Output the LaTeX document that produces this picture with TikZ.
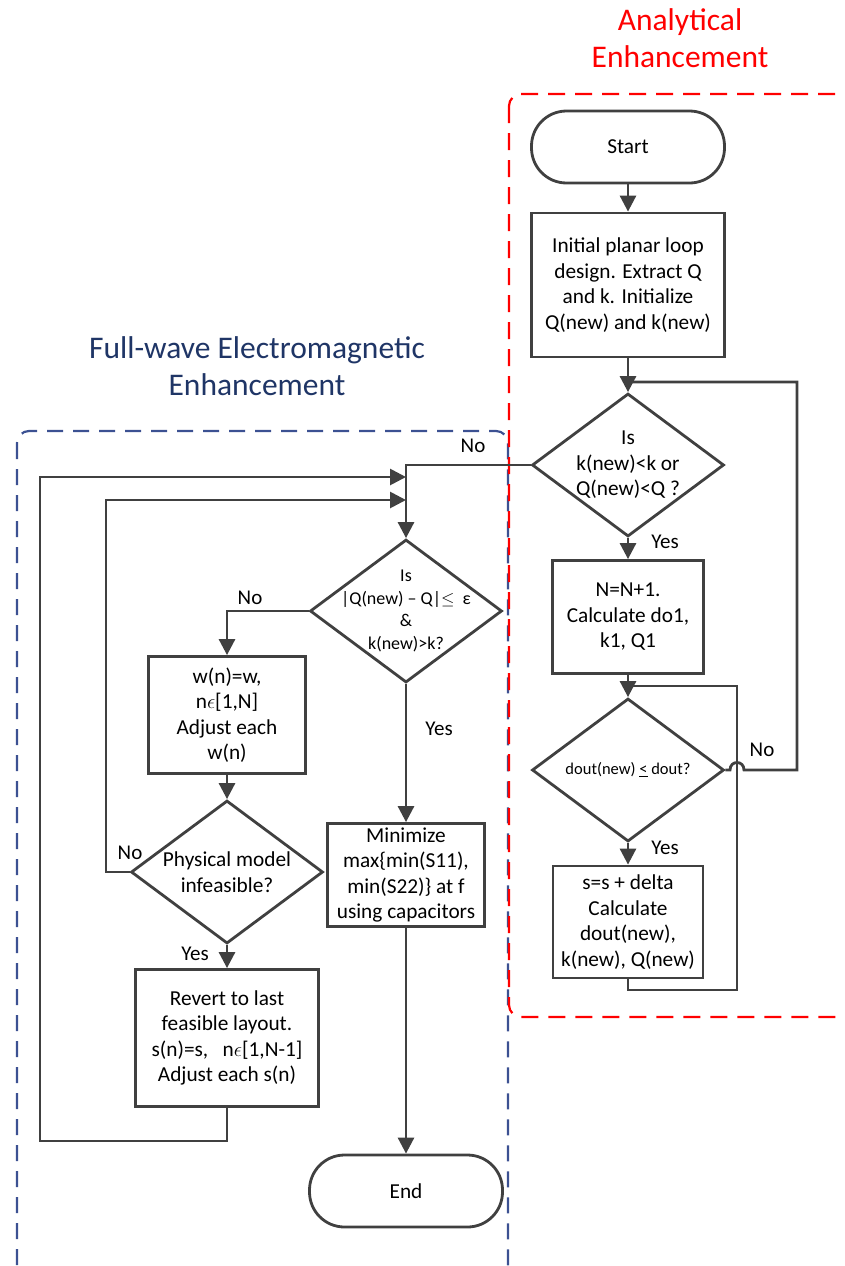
\documentclass[tikz,border=0pt]{standalone}
\usepackage{fontspec}
\setmainfont{Carlito}
\usepackage{tikz}
\usetikzlibrary{shapes.geometric,arrows.meta,positioning}
\definecolor{flowgray}{HTML}{404040}
\definecolor{anred}{HTML}{FF0000}
\definecolor{fwblue}{HTML}{3C5192}
\definecolor{fwnavy}{HTML}{1F3566}

\begin{document}
\begin{tikzpicture}[x=1pt,y=-1pt,
  proc/.style={
   draw=flowgray,
   line width=2.8pt,
   align=center,
   inner sep=2pt,
   font=\fontsize{21.3}{25.5}\selectfont
  },
  term/.style={
    proc,
    rounded corners=35pt,
    minimum width=193pt,
    minimum height=72pt
  },
  decis/.style={
    draw=flowgray,
    line width=2.8pt,
    diamond,
    inner sep=0pt,
    minimum width=192pt,
    minimum height=143pt
  },
  dectext/.style={align=center,font=\fontsize{21.3}{25.5}\selectfont},
  smalltext/.style={align=center,font=\fontsize{18}{22.7}\selectfont},
  lbl/.style={font=\fontsize{21}{24}\selectfont},
  link/.style={draw=flowgray,line width=2.8pt},
  arr/.style={link,-{Triangle[length=16pt,width=16pt]}},
  fwbox/.style={draw=fwblue,line width=2.2pt,dash pattern=on 16pt off 10pt,rounded corners=12pt},
  anbox/.style={draw=anred,line width=2.2pt,dash pattern=on 17pt off 10pt,rounded corners=12pt}]
	\useasboundingbox (0,0) rectangle (845,1266);
	\clip (0,0) rectangle (845,1266);

	% groups
	\draw[fwbox] (17,431) rectangle (508,1290);
	\draw[anbox] (509,94) rectangle (870,1017);
	\node[align=center,text=anred,font=\fontsize{31.5}{37}\selectfont] 
		  (antitle) at (680,38) {Analytical\\Enhancement};
	\node[align=center,text=fwnavy,font=\fontsize{31.5}{37}\selectfont] 
		  (fwtitle) at (257,366) {Full-wave Electromagnetic\\Enhancement};

	\node[term] (start) at (628,147) {Start};
	\node[proc,minimum width=193pt,minimum height=144pt] 
		  (init) at (628,285) {Initial planar loop\\design. Extract Q\\and k. Initialize\\Q(new) and k(new)};
	\node[decis,label={[dectext]center:{Is\\k(new)<k or\\Q(new)<Q ?}}] 
		  (chkkq) at (628,465) {};
	\node[proc,minimum width=151pt,minimum height=113pt] 
		  (calc1) at (628,617) {N=N+1.\\Calculate do1,\\k1, Q1};
	\node[decis,label={[smalltext,font=\fontsize{16.5}{20}\selectfont]center:{dout(new) \underline{<} dout?}}] 
		  (chkdout) at (628,770) {};
	\node[proc,minimum width=150pt,minimum height=112pt] 
		  (upds) at (628,922) {s=s + delta\\Calculate\\dout(new),\\k(new), Q(new)};

	\node[decis,label={[smalltext]center:{Is\\|Q(new) -- Q|$\leq$\ \ ε\\\&\\k(new)>k?}}] 
		  (chkq) at (406,611) {};
	\node[proc,minimum width=157pt,minimum height=117pt] 
		  (adjw) at (227,715) {w(n)=w,\\n$\epsilon$[1,N]\\Adjust each\\w(n)};
	\node[decis,label={[dectext]center:{Physical model\\infeasible?}}] 
		  (chkphys) at (227,872) {};
	\node[proc,minimum width=183pt,minimum height=137pt] 
		  (revert) at (227,1038) {Revert to last\\feasible layout.\\s(n)=s, \ \ n$\epsilon$[1,N-1]\\Adjust each s(n)};
	\node[proc,minimum width=157pt,minimum height=103pt] 
		  (minim) at (406,875) {Minimize\\max\{min(S11),\\min(S22)\} at f\\using capacitors};
	\node[term] (stop) at (406,1191) {End};

	% yes / no
	\node[lbl] (nokq) at (473,446) {No};
	\node[lbl] (yeskq) at (665,542) {Yes};
	\node[lbl] (nodout) at (762,750) {No};
	\node[lbl] (yesdout) at (665,848) {Yes};
	\node[lbl] (noq) at (250,598) {No};
	\node[lbl] (yesq) at (439,729) {Yes};
	\node[lbl] (nophys) at (130,853) {No};
	\node[lbl] (yesphys) at (195,954) {Yes};

	\coordinate (rtop) at (797,382);
	\coordinate (sloop) at (737,990);
	\coordinate (lout) at (40,477);
	\coordinate (lbot) at (40,1141);
	\coordinate (lin) at (106,500);

	\draw[arr] (start) -- (init);
	\draw[arr] (init) -- (chkkq);
	\draw[arr] (chkkq) -- (calc1);
	\draw[arr] (calc1) -- (chkdout);
	\draw[arr] (chkdout) -- (upds);
	\draw[link] (upds.south) |- (sloop) -- (sloop |- 0,686) -- (chkdout.north |- 0,686);
	\draw[link] (chkdout.east) -- (730,770) .. controls (730,760) and (744,760) .. (744,770) -| (rtop) -- (init.south |- rtop);

	\draw[arr] (chkkq.west) -| (chkq.north);
	\draw[arr] (chkq.west) -| (adjw.north);
	\draw[arr] (adjw) -- (chkphys);
	\draw[arr] (chkphys) -- (revert);
	\draw[arr] (chkphys.west) -| (lin) -- (lin -| chkq.north);
	\draw[arr] (revert.south) |- (lbot) -- (lout) -- (lout -| chkq.north);
	\draw[arr] (chkq) -- (minim);
	\draw[arr] (minim) -- (stop);
\end{tikzpicture}
\end{document}
